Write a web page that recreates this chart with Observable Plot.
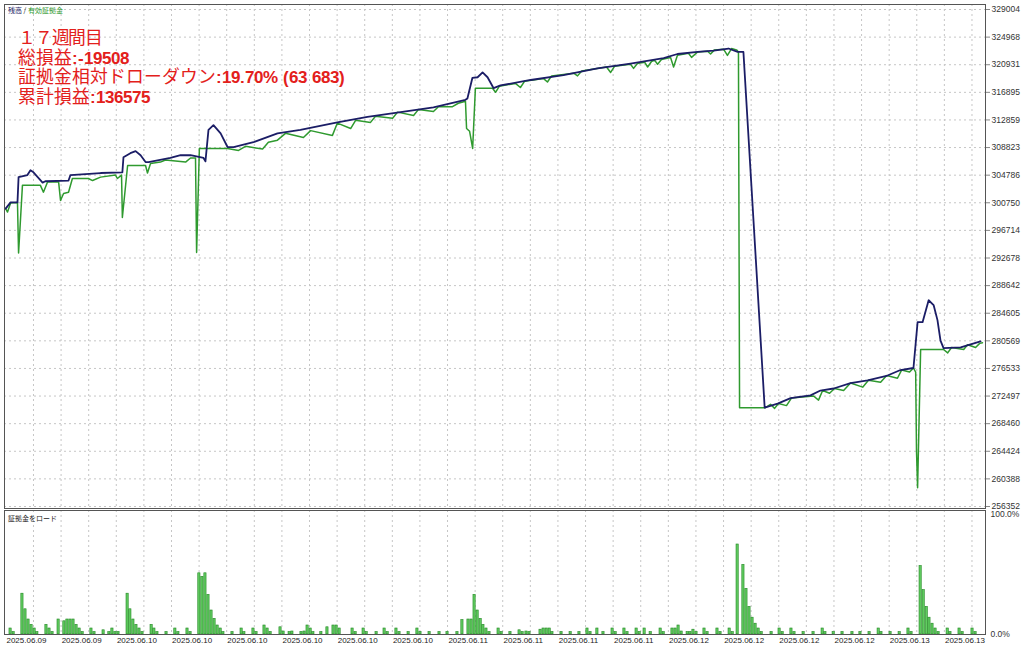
<!DOCTYPE html>
<html><head><meta charset="utf-8">
<script src="https://cdn.jsdelivr.net/npm/d3@7"></script>
<script src="https://cdn.jsdelivr.net/npm/@observablehq/plot@0.6"></script>
<style>
@font-face{font-family:"JPTight";src:local("Noto Sans CJK JP Regular"),local("NotoSansCJKjp-Regular"),local("Noto Sans CJK JP");font-weight:normal;ascent-override:88%;descent-override:12%;line-gap-override:0%;}
@font-face{font-family:"LatinTight";src:local("Liberation Sans Bold"),local("LiberationSans-Bold");font-weight:bold;ascent-override:90%;descent-override:20%;line-gap-override:0%;}
html,body{margin:0;padding:0;background:#fff;}
#wrap{position:relative;width:1024px;height:649px;overflow:hidden;background:#fff;}
#wrap svg{display:block;}
.title{position:absolute;left:18px;top:28px;color:#e3201b;font-family:"JPTight","Noto Sans CJK JP",sans-serif;font-size:17.8px;line-height:19.6px;white-space:nowrap;}
.title .ln{display:block;height:19.6px;}
.title .ln1{letter-spacing:-1.2px;}
.title b{font-family:"LatinTight","Liberation Sans",Arial,sans-serif;font-weight:bold;font-size:17px;}
.leg{position:absolute;font-family:"Noto Sans CJK JP",sans-serif;font-size:7px;line-height:8px;white-space:nowrap;color:#222;}
</style></head>
<body>
<div id="wrap">
  <div id="top"></div>
  <div id="bottom"></div>
  <div class="leg" style="left:8px;top:6px;"><span style="color:#1b1d66">残高</span> / <span style="color:#2f9a2f">有効証拠金</span></div>
  <div class="leg" style="left:8px;top:514px;">証拠金をロード</div>
  <div class="title">
    <div class="ln ln1">１７週間目</div>
    <div class="ln">総損益<b>:-19508</b></div>
    <div class="ln">証拠金相対ドローダウン<b>:19.70% (63 683)</b></div>
    <div class="ln">累計損益<b>:136575</b></div>
  </div>
</div>
<script>
// x axis: deal/sample index (10 steps per grid cell)
const xTickSteps = [0,20,40,60,80,100,120,140,160,180,200,220,240,260,280,300,320,340];
const xTickLabels = ["2025.06.09","2025.06.09","2025.06.10","2025.06.10","2025.06.10","2025.06.10","2025.06.10","2025.06.10","2025.06.11","2025.06.11","2025.06.11","2025.06.11","2025.06.12","2025.06.12","2025.06.12","2025.06.12","2025.06.13","2025.06.13"];
const yTicks = [329004,324968,320931,316895,312859,308823,304786,300750,296714,292678,288642,284605,280569,276533,272497,268460,264424,260388,256352];
const loadTicks = [0, 100];

// 残高 (balance)
const balanceStep = [-10.1,-8.3,-5.8,-5.4,-2.2,-1.1,0,3.3,4.3,12.7,13.4,24.3,32.2,32.6,35.1,37,38.8,40.6,41.7,49.6,53.3,56.9,61.6,62.3,63.4,65.2,67.8,70.3,72.5,79.7,88.4,96.7,110.1,121,133,144.9,156.5,157.2,159,160.9,162.7,164.5,166.7,169.2,180.1,192,204.3,216.3,228.3,233.3,240.6,246.4,251.8,255.1,257.2,264.9,269.6,274.3,281.5,285.1,289.9,296,302.2,309.4,314.1,318.8,320.3,322.1,324.3,326.1,327.5,328.6,329.7,335.9,343.1];
const balanceValue = [299900,300800,300800,304500,304800,305500,305200,303700,303900,304000,304800,305100,305200,307400,308000,308300,307700,306700,306700,307300,307700,307700,307300,306800,311400,312100,310900,308900,308900,309600,310900,311400,312500,313300,314000,314700,315800,316000,319000,319100,319800,319100,317500,317900,318700,319400,320400,321100,321900,322500,322800,323000,323300,322800,322800,270800,271400,272200,272600,273300,273600,274400,274800,275500,276300,276600,283300,283300,286500,285800,283600,280600,279500,279600,280500];

// 有効証拠金 (equity)
const equityStep = [-10.1,-9.4,-8.3,-5.8,-5.4,-4.0,2.5,3.6,5.1,9.1,9.8,10.9,12.7,14.1,19.9,21.4,24.3,29.7,30.4,31.9,32.2,34.1,40.6,41.3,42.4,46,47.8,55.1,56.9,58.7,59.1,60.1,70.3,74.3,76.8,83,85.1,88.4,91.3,97.8,100.4,108.3,110.1,114.9,116.7,122.1,123.9,130.1,131.9,137.7,139.5,144.9,146.7,151.8,153.9,156.5,156.9,158,159.1,160.1,166.3,167.4,168.8,174.6,176.4,177.9,184.8,186.2,187.7,195.7,197.1,198.6,207.6,209.1,210.5,216.3,217.4,218.8,221.4,222.5,223.9,225,226.1,227.5,230.8,231.9,233.3,237.3,238.4,240.6,244.2,245.3,246.7,250,251.4,252.9,254.7,255.4,255.8,265.2,267,268.5,269.9,272.8,274.6,282.6,284.4,285.9,288.4,290.2,293.5,296,300.4,302.5,306.9,309.1,313,314.5,317.4,318.8,319.6,319.9,320.3,321.4,329.7,331.2,332.6,337,338.4,341.3,342.8,343.8];
const equityValue = [299900,299400,300700,300800,293400,303300,303300,302300,303800,303800,301100,302100,302300,304300,304300,304000,304500,304800,304300,304800,298600,306200,306200,305100,306500,306700,307000,306700,307300,307300,293500,308700,308700,308400,309000,308600,309600,309900,310900,310300,311300,310600,312400,311600,312800,312500,313400,313100,314000,313500,314400,314100,314800,314800,315300,315600,311600,311200,308700,317500,317500,316900,317800,318200,317600,318500,318900,318400,319300,319700,319300,320000,320600,319800,320700,321000,320400,321100,321300,320600,321400,321600,321000,321700,322000,320600,322300,322600,322000,322800,322900,322500,323100,323200,322300,323300,323100,322800,270800,270800,271300,270700,271400,271100,272200,272500,271900,273300,272900,273600,273300,274400,273800,274800,274500,275500,275100,276300,276000,276600,276000,264500,259100,279300,279300,278800,279600,279300,280000,279600,280200,280300];

// 証拠金をロード (%)
const loadStep = [-8.3,-7.2,-4.0,-2.9,-1.8,-0.7,0.4,1.4,4.7,5.8,6.9,9.1,11.2,12.3,13.4,14.5,15.6,16.7,17.8,21.0,22.1,25.4,27.5,28.6,29.7,30.8,34.1,35.1,36.2,37.3,38.4,39.5,42.8,43.8,44.9,48.2,51.4,52.5,55.8,56.9,60.1,61.2,62.3,63.4,64.5,65.6,66.7,67.8,68.8,72.1,75.4,76.4,79.7,80.8,83.7,84.8,85.9,89.5,90.6,92.8,93.8,97.1,98.2,99.3,100.4,101.4,104.3,106.5,108.7,109.8,110.9,115.6,116.7,119.6,120.7,124.3,127.2,128.3,131.5,132.6,135.9,139.1,140.2,143.5,147.1,150.0,153.6,155.4,157.6,158.7,159.8,160.9,162.0,163.0,164.1,165.2,168.5,169.6,172.8,176.1,177.2,178.6,179.7,183.7,184.8,185.9,187.0,188.0,191.3,194.6,197.8,200.7,201.8,204.3,206.5,209.8,210.9,214.1,215.2,218.5,219.6,221.4,223.6,227.2,228.3,231.5,232.6,233.7,234.8,237.0,238.0,239.1,240.2,243.1,244.2,247.8,248.9,252.2,253.3,255.1,257.2,258.3,259.4,260.5,261.6,262.7,263.8,267.4,270.3,271.4,274.6,275.7,279.0,282.6,285.9,286.9,289.9,293.1,296.7,299.6,302.9,306.2,307.2,310.5,313.8,317.0,318.1,321.4,322.5,323.6,324.6,325.7,326.8,327.9,331.2,332.2,335.5,336.6,340.2,341.3];
const loadPct = [5,2,34,21,12.5,8,5,2,8,5,2,12.5,11,12.5,12.5,12.5,8,5,2,5,2,3.5,2,5,2,2,34,21,12.5,8,5,2,8,5,2,2,5,2,5,2,51,48,51,33,20,13,7.5,5,2,2,5,2,5,2,7.5,5,2,6,2.5,2,2.5,2,2.5,7.5,5,2,2,6,7.5,7.5,5,5,2,5,2,2,5,2,5,2,2,5,2,2,2,2,2,12,12.5,12.5,33,20,13,8,5,2,5,2,2,3.5,2,2.5,2,4,5,5,5,2,2,2,2,5,2,5,2,5,2,5,2,5,2,5,2,5,2,5,5,7.5,2.5,2,2,4,2,5,2,5,2,5,2,75,58,38,23,14,9,5,2,2,5,2,5,2,2,2,5,2,2,2,2,2,2,5,2,2,2,5,2,57,37,23,14,9,5,2,5,2,5,2,5,2];

const balance = balanceStep.map((s, i) => ({s, v: balanceValue[i]}));
const equity = equityStep.map((s, i) => ({s, v: equityValue[i]}));
const load = loadStep.map((s, i) => ({s, p: loadPct[i]}));
const gridSteps = d3.range(0, 341, 10);

const xDomain = [-10.5, 344.9];
const gridStyle = {stroke: "#c6c6c6", strokeDasharray: "2,3", strokeWidth: 1};
const baseStyle = {background: "transparent", fontFamily: "'Liberation Sans', Arial, sans-serif", fontSize: "8.5px", color: "#333", overflow: "visible"};

const topChart = Plot.plot({
  width: 1024, height: 509,
  marginLeft: 4, marginRight: 39, marginTop: 4, marginBottom: 1,
  insetTop: 5, insetBottom: 2,
  style: baseStyle,
  x: {domain: xDomain, axis: null, label: null},
  y: {domain: [256352, 329004], axis: null, label: null},
  marks: [
    Plot.ruleY(yTicks, gridStyle),
    Plot.ruleX(gridSteps, gridStyle),
    Plot.line(equity, {x: "s", y: "v", stroke: "#2f9a2f", strokeWidth: 1.5}),
    Plot.line(balance, {x: "s", y: "v", stroke: "#1b1d66", strokeWidth: 1.8}),
    Plot.frame({stroke: "#555"}),
    Plot.axisY(yTicks, {anchor: "right", label: null, tickSize: 4, tickPadding: 2, stroke: "#888", tickFormat: d => String(d), fill: "#333"})
  ]
});
document.getElementById("top").appendChild(topChart);

const bottomChart = Plot.plot({
  width: 1024, height: 140,
  marginLeft: 4, marginRight: 39, marginTop: 1, marginBottom: 15,
  insetTop: 4,
  style: baseStyle,
  x: {domain: xDomain, axis: null, label: null},
  y: {domain: [0, 100], axis: null, label: null},
  marks: [
    Plot.ruleX(gridSteps, gridStyle),
    Plot.rectY(load, {x1: d => d.s - 0.4, x2: d => d.s + 0.4, y: "p", fill: "#62cc62", stroke: "#1e861e", strokeWidth: 0.6}),
    Plot.frame({stroke: "#555"}),
    Plot.axisY(loadTicks, {anchor: "right", label: null, tickSize: 0, tickPadding: 5, tickFormat: d => d.toFixed(1) + "%", fill: "#333"}),
    Plot.axisX(xTickSteps, {anchor: "bottom", label: null, tickSize: 0, tickPadding: 3, dx: -7, fontSize: 8, tickFormat: (d, i) => xTickLabels[i], fill: "#222"})
  ]
});
document.getElementById("bottom").appendChild(bottomChart);
</script>
</body></html>
